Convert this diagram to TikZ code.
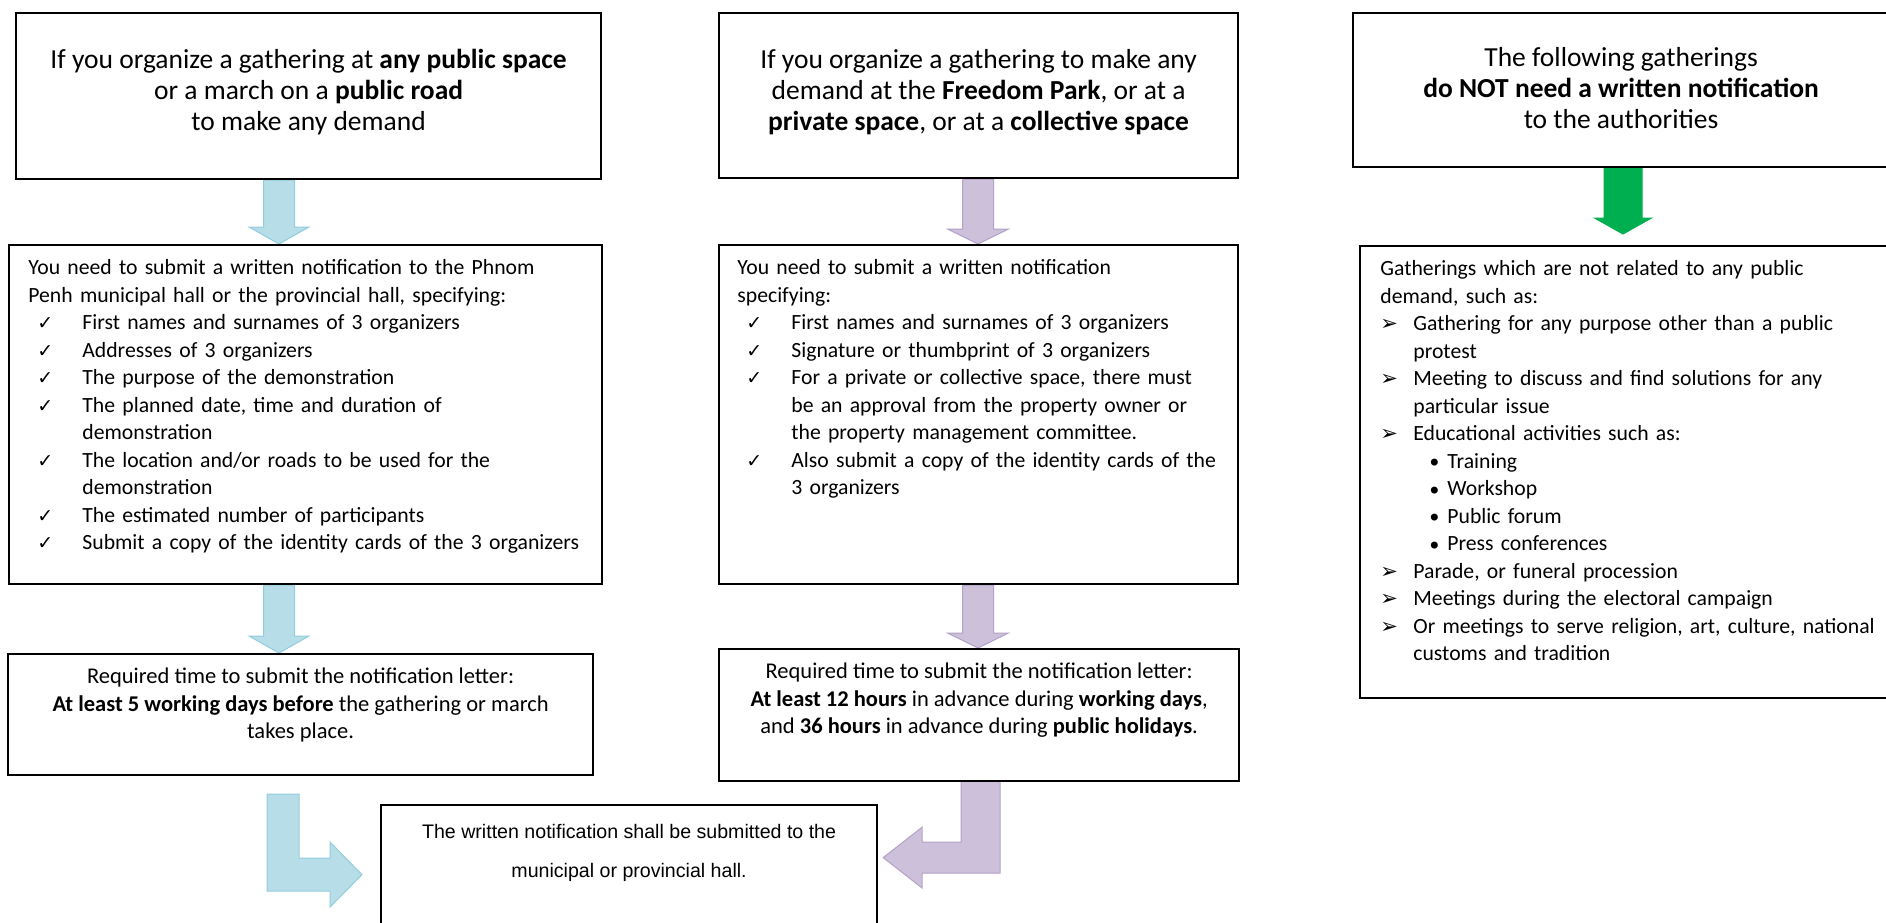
\documentclass[tikz,border=0pt]{standalone}
\usepackage{fontspec}
\setmainfont{Carlito}
\newfontfamily\symfont{DejaVu Sans}
\newfontfamily\arialfont{Liberation Sans}
\usetikzlibrary{calc,backgrounds}
\setlength{\parskip}{0pt}

\definecolor{arrblue}{RGB}{183,221,232}
\definecolor{arrblueline}{RGB}{146,205,220}
\definecolor{arrpurple}{RGB}{204,192,218}
\definecolor{arrpurpleline}{RGB}{179,162,199}
\definecolor{arrgreen}{RGB}{0,176,80}

\newcommand{\tickitem}[1]{\par\hangindent=27pt\hangafter=1\noindent
  \makebox[27pt][l]{\hspace*{4.5pt}{\symfont\fontsize{9.5}{9.5}\selectfont ✓}}#1}
\newcommand{\arritem}[1]{\par\hangindent=16.5pt\hangafter=1\noindent
  \makebox[16.5pt][l]{{\symfont\fontsize{10.5}{10.5}\selectfont ➢}}#1}
\newcommand{\dotitem}[1]{\par\noindent\hspace*{23.5pt}\makebox[10pt][l]{\raisebox{-1.8pt}{\symfont\fontsize{12}{12}\selectfont •}}#1}

\begin{document}
\begin{tikzpicture}[x=0.5pt, y=-0.5pt,
    box/.style={draw, line width=1.1pt, anchor=north west, inner sep=0pt},
    toptxt/.style={align=center, anchor=north, inner sep=0pt, font=\fontsize{13.75}{15.5}\selectfont},
    midtxt/.style={align=center, anchor=north, inner sep=0pt, font=\fontsize{11.25}{13.75}\selectfont},
    bodytxt/.style={align=left, anchor=north west, inner sep=0pt, font=\fontsize{10.85}{13.75}\selectfont},
    bluearr/.style={fill=arrblue, draw=arrblueline, line width=0.5pt},
    purparr/.style={fill=arrpurple, draw=arrpurpleline, line width=0.5pt},
    greenarr/.style={fill=arrgreen, draw=arrgreen, line width=0.5pt},
    fatdown/.style n args={3}{to path={
      ($(\tikztostart)+(-#1,0)$) -- ($(\tikztotarget)+(-#1,-#3)$)
      -- ($(\tikztotarget)+(-#2,-#3)$) -- (\tikztotarget)
      -- ($(\tikztotarget)+(#2,-#3)$) -- ($(\tikztotarget)+(#1,-#3)$)
      -- ($(\tikztostart)+(#1,0)$) -- cycle}}]
    \useasboundingbox (0,0) rectangle (1886,922);

    % left column
    \node[box, minimum width=292.5pt, minimum height=83pt] (A1) at (15,12) {};
    \node[box, minimum width=296.5pt, minimum height=169.5pt] (A2) at (8,244) {};
    \node[box, minimum width=292.5pt, minimum height=60.5pt] (A3) at (7,653) {};
    % middle column
    \node[box, minimum width=259.5pt, minimum height=82.5pt] (B1) at (718,12) {};
    \node[box, minimum width=259.5pt, minimum height=169.5pt] (B2) at (718,244) {};
    \node[box, minimum width=260pt, minimum height=66pt] (B3) at (718,648) {};
    % right column
    \node[box, minimum width=272pt, minimum height=77pt] (R1) at (1352,12) {};
    \node[box, minimum width=268.5pt, minimum height=226pt] (R2) at (1359,245) {};
    % bottom
    \node[box, minimum width=248pt, minimum height=69.5pt] (C) at (380,804) {};

    \node[toptxt] (A1t) at ($(A1.north)+(0,34.7)$) {\strut If you organize a gathering at \textbf{any public space}\\
      or a march on a \textbf{public road}\\ to make any demand};
    \node[toptxt] (B1t) at ($(B1.north)+(0,34.7)$) {\strut If you organize a gathering to make any\\
      demand at the \textbf{Freedom Park}, or at a\\ \textbf{private space}, or at a \textbf{collective space}};
    \node[toptxt] (R1t) at ($(R1.north)+(-4,32)$) {\strut The following gatherings\\
      \textbf{do NOT need a written notification}\\ to the authorities};

    \node[bodytxt, text width=285pt] (A2t) at ($(A2.north west)+(20,11)$) {\noindent\strut
      You need to submit a written notification to the Phnom\newline Penh municipal hall or the provincial hall, specifying:
      \tickitem{First names and surnames of 3 organizers}
      \tickitem{Addresses of 3 organizers}
      \tickitem{The purpose of the demonstration}
      \tickitem{The planned date, time and duration of\newline demonstration}
      \tickitem{The location and/or roads to be used for the\newline demonstration}
      \tickitem{The estimated number of participants}
      \tickitem{Submit a copy of the identity cards of the 3 organizers}\par};
    \node[bodytxt, text width=245pt] (B2t) at ($(B2.north west)+(19,11)$) {\noindent\strut
      You need to submit a written notification\newline specifying:
      \tickitem{First names and surnames of 3 organizers}
      \tickitem{Signature or thumbprint of 3 organizers}
      \tickitem{For a private or collective space, there must\newline be an approval from the property owner or\newline the property management committee.}
      \tickitem{Also submit a copy of the identity cards of the\newline 3 organizers}\par};
    \node[bodytxt, text width=265pt] (R2t) at ($(R2.north west)+(21,11)$) {\noindent\strut
      Gatherings which are not related to any public\newline demand, such as:
      \arritem{Gathering for any purpose other than a public\newline protest}
      \arritem{Meeting to discuss and find solutions for any\newline particular issue}
      \arritem{Educational activities such as:}
      \dotitem{Training}
      \dotitem{Workshop}
      \dotitem{Public forum}
      \dotitem{Press conferences}
      \arritem{Parade, or funeral procession}
      \arritem{Meetings during the electoral campaign}
      \arritem{Or meetings to serve religion, art, culture, national\newline customs and tradition}\par};

    \node[midtxt] (A3t) at ($(A3.north)+(0,11)$) {\strut Required time to submit the notification letter:\\
      \textbf{At least 5 working days before} the gathering or march\\ takes place.};
    \node[midtxt] (B3t) at ($(B3.north)+(0,11)$) {\strut Required time to submit the notification letter:\\
      \textbf{At least 12 hours} in advance during \textbf{working days},\\
      and \textbf{36 hours} in advance during \textbf{public holidays}.};
    \node[anchor=north, align=center, inner sep=0pt, font=\arialfont\fontsize{9.8}{19.5}\selectfont] (Ct)
      at ($(C.north)+(0,6.7)$) {\strut The written notification shall be submitted to the\\ municipal or provincial hall.};

    % fat arrows behind the boxes
    \coordinate (ax) at (279,0);
    \coordinate (bx) at (978,0);
    \coordinate (rx) at (1623,0);
    \coordinate (gtip) at ($(rx |- R2.north)+(0,-11)$);
    \coordinate (bt) at ($(C.west)+(-18,0)$);
    \coordinate (pt) at ($(C.east)+(5,-17)$);
    \begin{scope}[on background layer]
      \draw[bluearr, fatdown={15.5}{30}{17}] (ax |- A1.south) to (ax |- A2.north);
      \draw[bluearr, fatdown={15.5}{30}{17}] (ax |- A2.south) to (ax |- A3.north);
      \draw[purparr, fatdown={15.5}{30.5}{15}] (bx |- B1.south) to (bx |- B2.north);
      \draw[purparr, fatdown={15.5}{30.5}{15}] (bx |- B2.south) to (bx |- B3.north);
      \draw[greenarr, fatdown={19}{28.5}{16}] (rx |- R1.south) to (gtip);
      \draw[bluearr] (bt) -- ++(-32,32.5) -- ++(0,-16) -- ++(-63,0) -- ++(0,-97)
        -- ++(32,0) -- ++(0,64) -- ++(31,0) -- ++(0,-16) -- cycle;
      \draw[purparr] (pt) -- ++(39,30.5) -- ++(0,-15) -- ++(78,0) -- ++(0,-92)
        -- ++(-39,0) -- ++(0,61) -- ++(-39,0) -- ++(0,-15) -- cycle;
    \end{scope}
\end{tikzpicture}
\end{document}
